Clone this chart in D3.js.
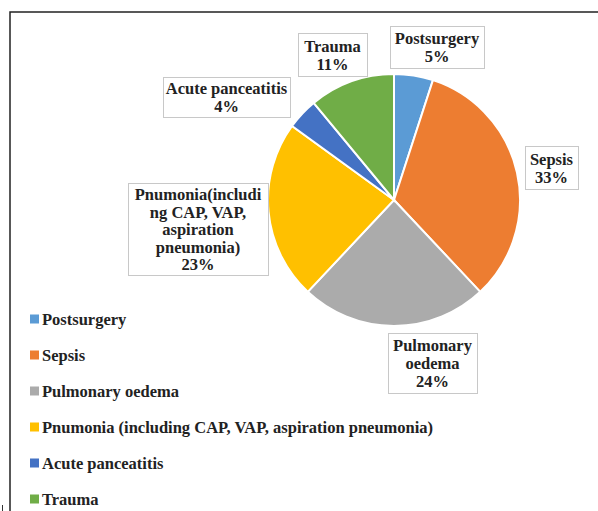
<!DOCTYPE html>
<html><head><meta charset="utf-8">
<script src="https://cdn.jsdelivr.net/npm/d3@7"></script>
<style>body{margin:0;background:#fff}svg{display:block}
text{font-family:"Liberation Serif","Times New Roman",Times,serif;font-weight:bold;}</style>
</head><body>
<script>
const categories = ["Postsurgery","Sepsis","Pulmonary oedema","Pnumonia (including CAP, VAP, aspiration pneumonia)","Acute panceatitis","Trauma"];
const values = [5,33,24,23,4,11];
const labelLines = [["Postsurgery"],["Sepsis"],["Pulmonary","oedema"],["Pnumonia(includi","ng CAP, VAP,","aspiration","pneumonia)"],["Acute panceatitis"],["Trauma"]];
const colors = ["#5B9BD5","#ED7D31","#ABABAB","#FFC000","#4472C4","#70AD47"];
// layout: label box [x0,y0,x1,y1]
const boxes = [[390,26,484,68],[525,146,578,189],[388,333,477,393],[128,183,268,275],[163,77,290,117],[298,33,367,76]];

const W=598,H=511;
const svg=d3.select("body").append("svg").attr("width",W).attr("height",H);
svg.append("path").attr("d",`M10,511V12H598`).attr("fill","none").attr("stroke","#222").attr("stroke-width",1.5);
svg.append("line").attr("x1",2.5).attr("x2",2.5).attr("y1",505).attr("y2",511).attr("stroke","#333");

const cx=394,cy=200,r=126;
const pie=d3.pie().sort(null).value(d=>d);
const arc=d3.arc().innerRadius(0).outerRadius(r);
const g=svg.append("g").attr("transform",`translate(${cx},${cy})`);
g.selectAll("path").data(pie(values)).join("path")
 .attr("d",arc).attr("fill",(d,i)=>colors[i]).attr("stroke","#fff").attr("stroke-width",2);

boxes.forEach((b,i)=>{
  svg.append("rect").attr("x",b[0]+0.5).attr("y",b[1]+0.5).attr("width",b[2]-b[0]).attr("height",b[3]-b[1])
   .attr("fill","#fff").attr("stroke","#c8c8c8").attr("stroke-width",1);
  const lines=labelLines[i].concat([values[i]+"%"]);
  const lh = i===3?17.5:18;
  const mx=(b[0]+b[2])/2, my=(b[1]+b[3])/2;
  const t=svg.append("text").attr("font-size",16.5)
    .attr("fill","#222").attr("text-anchor","middle");
  lines.forEach((l,j)=>{
    t.append("tspan").attr("x",mx).attr("y",my+(j-(lines.length-1)/2)*lh+6).text(l);
  });
});

const leg=svg.append("g");
const ly=d3.scalePoint().domain(categories).range([319,499]);
categories.forEach((c,i)=>{
  leg.append("rect").attr("x",30).attr("y",ly(c)-4.5).attr("width",9).attr("height",9).attr("fill",colors[i]);
  leg.append("text").attr("x",42).attr("y",ly(c)+6)
   .attr("font-size",16.5).attr("fill","#222").text(c);
});
</script>
</body></html>
